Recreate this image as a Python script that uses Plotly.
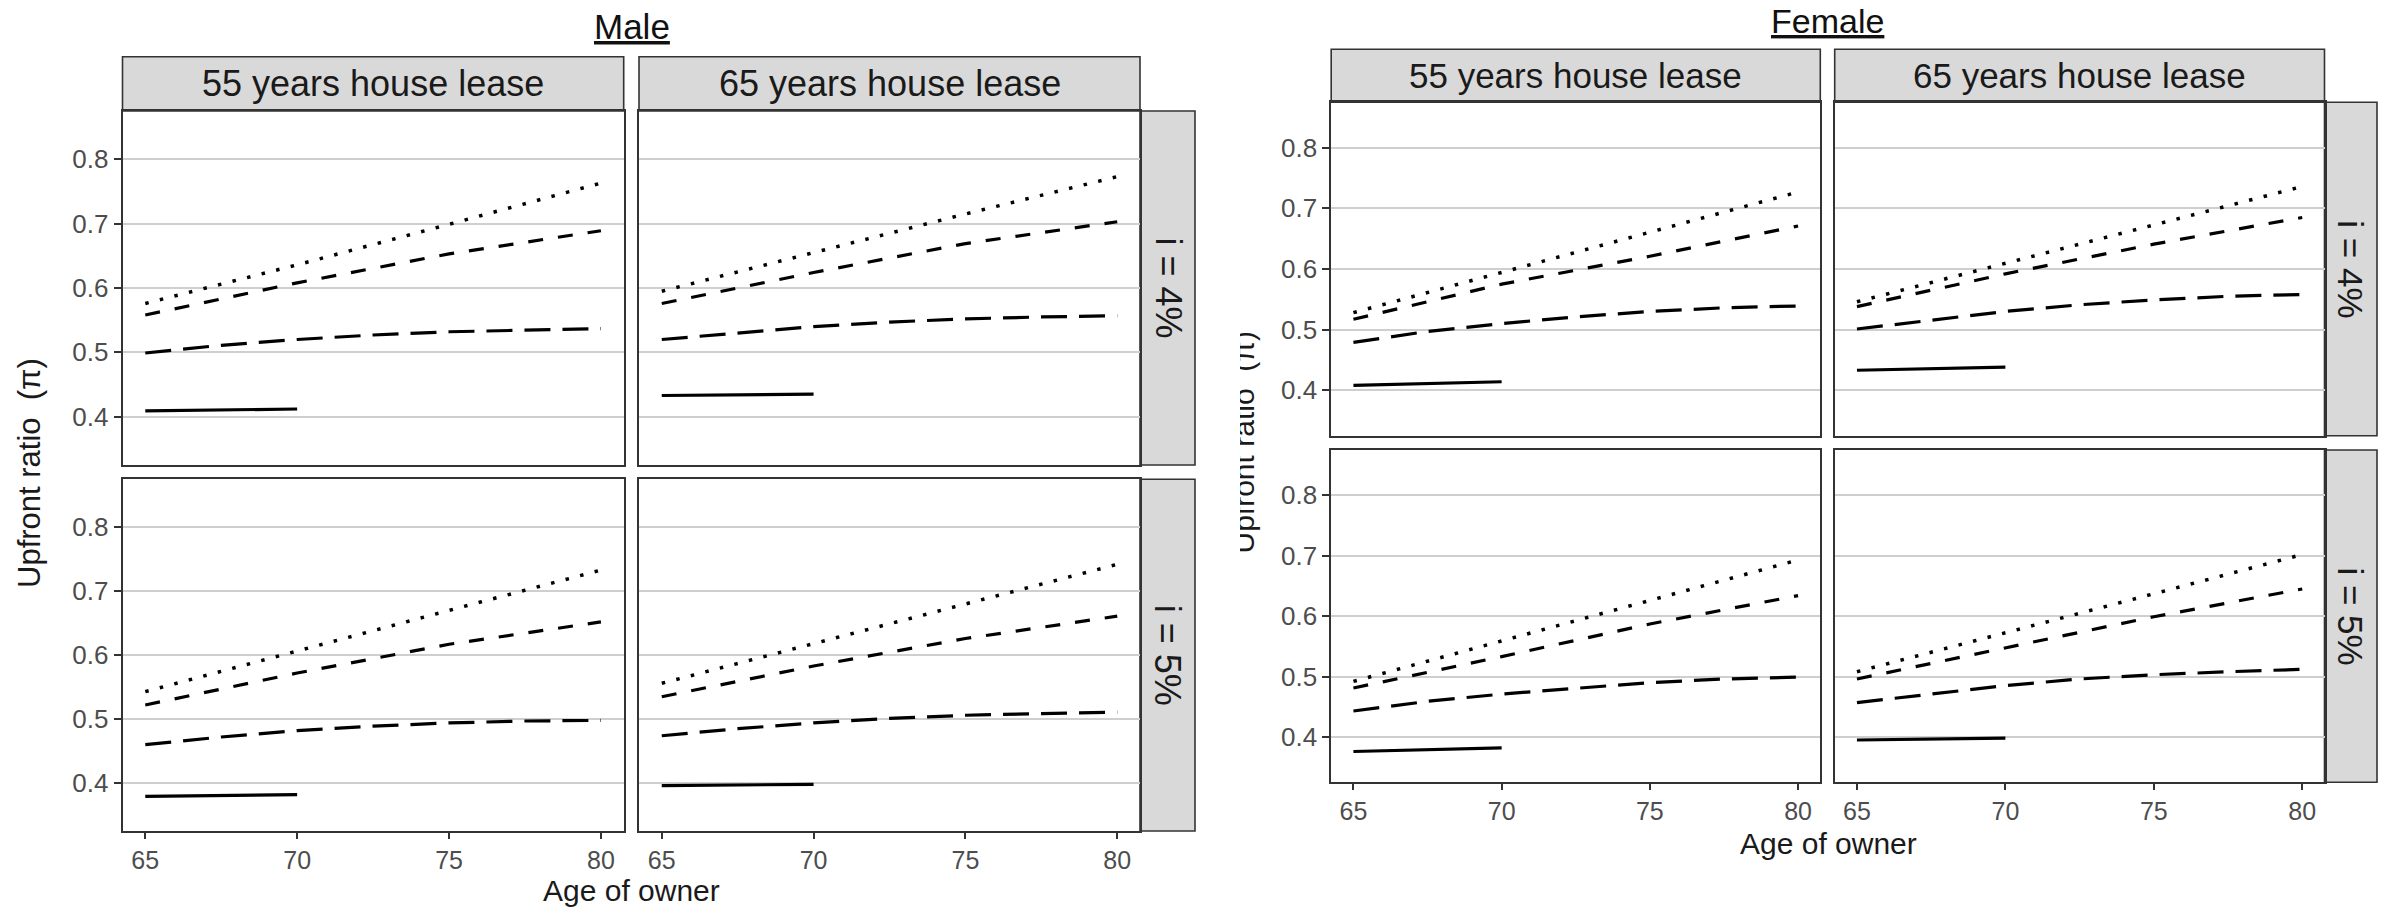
import plotly.graph_objects as go

W, H = 2389, 907
FONT = "Liberation Sans, Arial, sans-serif"

# ---------------- data ----------------
ages_line = [65, 70, 75, 80]                      # dotted & short-dashed series
ages_curve = [65, 67.5, 70, 72.5, 75, 77.5, 80]   # long-dashed series
ages_short = [65, 70]                             # solid series

lease_labels = ["55 years house lease", "65 years house lease"]
rate_labels = ["i = 4%", "i = 5%"]
y_ticks = [0.4, 0.5, 0.6, 0.7, 0.8]
y_tick_text = ["0.4", "0.5", "0.6", "0.7", "0.8"]
x_ticks = [65, 70, 75, 80]
x_tick_text = ["65", "70", "75", "80"]

# panel order: (i=4%, 55y), (i=4%, 65y), (i=5%, 55y), (i=5%, 65y)
male_dotted = [
    [0.576, 0.636, 0.699, 0.763],
    [0.595, 0.655, 0.715, 0.773],
    [0.543, 0.607, 0.670, 0.733],
    [0.556, 0.618, 0.680, 0.742],
]
male_dashed = [
    [0.558, 0.608, 0.653, 0.689],
    [0.576, 0.624, 0.669, 0.703],
    [0.522, 0.572, 0.617, 0.652],
    [0.535, 0.583, 0.626, 0.661],
]
male_longdash = [
    [0.499, 0.511, 0.520, 0.527, 0.532, 0.535, 0.537],
    [0.520, 0.530, 0.540, 0.547, 0.552, 0.555, 0.557],
    [0.460, 0.472, 0.482, 0.489, 0.494, 0.497, 0.498],
    [0.474, 0.485, 0.494, 0.501, 0.506, 0.508, 0.511],
]
male_solid = [
    [0.409, 0.412],
    [0.433, 0.435],
    [0.379, 0.382],
    [0.396, 0.398],
]

female_dotted = [
    [0.528, 0.594, 0.661, 0.727],
    [0.546, 0.609, 0.672, 0.736],
    [0.492, 0.559, 0.626, 0.693],
    [0.508, 0.572, 0.637, 0.702],
]
female_dashed = [
    [0.517, 0.575, 0.621, 0.671],
    [0.538, 0.592, 0.641, 0.685],
    [0.481, 0.533, 0.587, 0.634],
    [0.496, 0.547, 0.599, 0.645],
]
female_longdash = [
    [0.479, 0.497, 0.510, 0.521, 0.530, 0.536, 0.539],
    [0.501, 0.516, 0.530, 0.541, 0.549, 0.555, 0.558],
    [0.443, 0.459, 0.471, 0.481, 0.490, 0.496, 0.499],
    [0.457, 0.471, 0.485, 0.496, 0.503, 0.508, 0.512],
]
female_solid = [
    [0.408, 0.414],
    [0.433, 0.438],
    [0.376, 0.382],
    [0.395, 0.398],
]

# ---------------- geometry (pixels) ----------------
blocks = [
    dict(name="Male", title_xy=(632, 27), cols=[(122.5, 623.7), (639, 1140)],
         rows=[(111, 465), (479.3, 831)], strip_top=56.7, strip_right=1195,
         xtitle_xy=(631, 890), fs_tick=25, fs_strip=36, fs_title=35, fs_axis=30,
         data=(male_dotted, male_dashed, male_longdash, male_solid)),
    dict(name="Female", title_xy=(1827, 21), cols=[(1331.2, 1820.3), (1834.7, 2324.5)],
         rows=[(102.3, 435.7), (450, 782.3)], strip_top=49.3, strip_right=2377,
         xtitle_xy=(1828, 843), fs_tick=25, fs_strip=35, fs_title=34, fs_axis=30,
         data=(female_dotted, female_dashed, female_longdash, female_solid)),
]


def px(x):
    return x / W


def py(y):
    return 1 - y / H


fig = go.Figure()
layout = dict(
    width=W, height=H, autosize=False,
    margin=dict(l=0, r=0, t=0, b=0),
    paper_bgcolor="white", plot_bgcolor="white",
    showlegend=False, font=dict(family=FONT, color="#1a1a1a"),
)
shapes = []
annotations = []

line_styles = [
    dict(dash="3.5px,11.5px", width=3.5),  # dotted
    dict(dash="15px,15px", width=3.2),     # dashed
    dict(dash="26px,12px", width=3.2),     # long dash
    dict(dash="solid", width=3.2),         # solid
]

ax = 0
for b in blocks:
    dotted, dashed, longd, solid = b["data"]
    for k in range(4):
        r, c = k // 2, k % 2
        ax += 1
        xa = "x" if ax == 1 else f"x{ax}"
        ya = "y" if ax == 1 else f"y{ax}"
        (x0, x1), (y0, y1) = b["cols"][c], b["rows"][r]
        bottom = r == 1
        left = c == 0
        layout["xaxis" if ax == 1 else f"xaxis{ax}"] = dict(
            domain=[px(x0), px(x1)], range=[64.25, 80.75], anchor=ya,
            tickvals=x_ticks, ticktext=x_tick_text, showticklabels=bottom,
            ticks="outside" if bottom else "", ticklen=6, tickwidth=1.5, tickcolor="#333333",
            tickfont=dict(size=b["fs_tick"], color="#4D4D4D", family=FONT),
            showgrid=False, zeroline=False, showline=True, mirror=True,
            linecolor="#333333", linewidth=1.6, fixedrange=True,
        )
        layout["yaxis" if ax == 1 else f"yaxis{ax}"] = dict(
            domain=[py(y1), py(y0)], range=[0.325, 0.875], anchor=xa,
            tickvals=y_ticks, ticktext=y_tick_text, showticklabels=left,
            ticks="outside" if left else "", ticklen=7, tickwidth=1.5, tickcolor="#333333",
            tickfont=dict(size=b["fs_tick"] + 1, color="#4D4D4D", family=FONT),
            showgrid=True, gridcolor="#CFCFCF", gridwidth=1.6,
            zeroline=False, showline=True, mirror=True,
            linecolor="#333333", linewidth=1.6, fixedrange=True,
        )
        series = [(ages_line, dotted[k]), (ages_line, dashed[k]),
                  (ages_curve, longd[k]), (ages_short, solid[k])]
        for (xs, ys), st in zip(series, line_styles):
            fig.add_trace(go.Scatter(
                x=xs, y=ys, mode="lines", xaxis=xa, yaxis=ya,
                line=dict(color="black", width=st["width"], dash=st["dash"]),
                hoverinfo="skip",
            ))
    # strips on top (columns)
    for c, (x0, x1) in enumerate(b["cols"]):
        y0, y1 = b["strip_top"], b["rows"][0][0]
        shapes.append(dict(type="rect", xref="paper", yref="paper",
                           x0=px(x0), x1=px(x1), y0=py(y1), y1=py(y0),
                           fillcolor="#D9D9D9", line=dict(color="#333333", width=1.6),
                           layer="below"))
        annotations.append(dict(text=lease_labels[c], xref="paper", yref="paper",
                                x=px((x0 + x1) / 2), y=py((y0 + y1) / 2),
                                showarrow=False, xanchor="center", yanchor="middle",
                                font=dict(size=b["fs_strip"], color="#1A1A1A", family=FONT)))
    # strips on the right (rows)
    for r, (y0, y1) in enumerate(b["rows"]):
        x0, x1 = b["cols"][1][1], b["strip_right"]
        shapes.append(dict(type="rect", xref="paper", yref="paper",
                           x0=px(x0), x1=px(x1), y0=py(y1), y1=py(y0),
                           fillcolor="#D9D9D9", line=dict(color="#333333", width=1.6),
                           layer="below"))
        annotations.append(dict(text=rate_labels[r], xref="paper", yref="paper",
                                x=px((x0 + x1) / 2), y=py((y0 + y1) / 2), textangle=90,
                                showarrow=False, xanchor="center", yanchor="middle",
                                font=dict(size=b["fs_strip"], color="#1A1A1A", family=FONT)))
    # block title (underlined)
    tx, ty = b["title_xy"]
    annotations.append(dict(text=f"<u>{b['name']}</u>", xref="paper", yref="paper",
                            x=px(tx), y=py(ty), showarrow=False,
                            xanchor="center", yanchor="middle",
                            font=dict(size=b["fs_title"], color="#111111", family=FONT)))
    # x-axis title
    ax_x, ax_y = b["xtitle_xy"]
    annotations.append(dict(text="Age of owner", xref="paper", yref="paper",
                            x=px(ax_x), y=py(ax_y), showarrow=False,
                            xanchor="center", yanchor="middle",
                            font=dict(size=b["fs_axis"], color="#1A1A1A", family=FONT)))

# Male y-axis title
annotations.append(dict(text="Upfront ratio  (π)", xref="paper", yref="paper",
                        x=px(30), y=py(473), textangle=-90, showarrow=False,
                        xanchor="center", yanchor="middle",
                        font=dict(size=31, color="#1A1A1A", family=FONT)))

# Female y-axis title: partly hidden (clipped) as in the source composite
layout["xaxis9"] = dict(domain=[px(1240), px(1321)], range=[-3, 78], visible=False,
                        anchor="y9", fixedrange=True)
layout["yaxis9"] = dict(domain=[py(782.3), py(102.3)], range=[0, 1], visible=False,
                        anchor="x9", fixedrange=True)
fig.add_trace(go.Bar(
    x=[0], y=[1], base=0, width=40, xaxis="x9", yaxis="y9",
    marker=dict(color="rgba(0,0,0,0)", line=dict(width=0)),
    text=["Upfront ratio  (π)"], textposition="inside", textangle=-90,
    insidetextanchor="middle", constraintext="none", cliponaxis=True,
    insidetextfont=dict(size=30, color="#1A1A1A", family=FONT),
    hoverinfo="skip",
))

layout["shapes"] = shapes
layout["annotations"] = annotations
fig.update_layout(**layout)

fig.write_html(
    "out.html",
    config={"displayModeBar": False},
    post_script="document.body.style.margin='0';document.body.style.overflow='hidden';",
)
